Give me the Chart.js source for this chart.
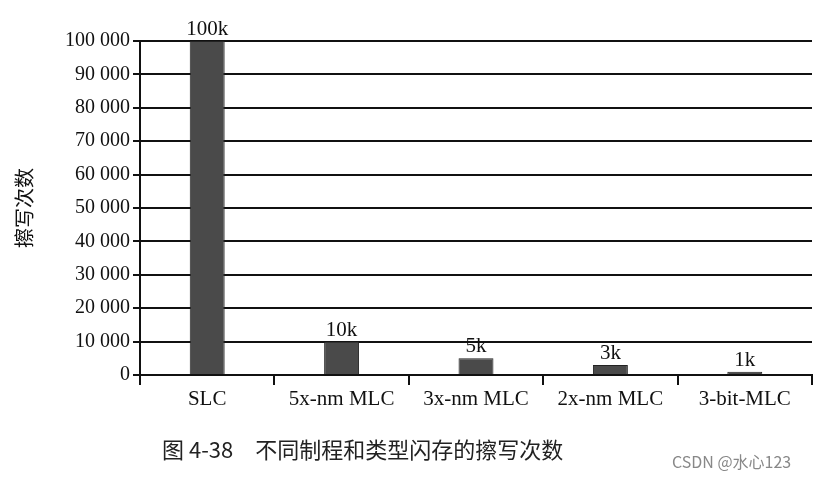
<!DOCTYPE html>
<html><head><meta charset="utf-8">
<script src="https://cdn.jsdelivr.net/npm/chart.js@4/dist/chart.umd.min.js"></script>
<style>html,body{margin:0;padding:0;background:#fff}#w{width:833px;height:479px}</style>
</head><body><div id="w"><canvas id="c"></canvas></div>
<script>
const categories = ["SLC","5x-nm MLC","3x-nm MLC","2x-nm MLC","3-bit-MLC"];
const cycles = [100000,10000,5000,3000,1000];
const valueLabels = ["100k","10k","5k","3k","1k"];
const yTicks = [0,10000,20000,30000,40000,50000,60000,70000,80000,90000,100000];
const yTitle = "擦写次数";
const caption = "图 4-38　不同制程和类型闪存的擦写次数";
const watermark = "CSDN @水心123";
const serif = "'Liberation Serif','DejaVu Serif',serif";
const cjk = "'Noto Sans CJK SC',sans-serif";
const extras = {
  id:'extras',
  afterDatasetsDraw(ch){
    const ctx=ch.ctx, m=ch.getDatasetMeta(0);
    ctx.save();
    ctx.fillStyle='#111';ctx.font="21px "+serif;ctx.textAlign='center';ctx.textBaseline='bottom';
    m.data.forEach((b,i)=>ctx.fillText(valueLabels[i],b.x,b.y-1));
    ctx.font="20px "+cjk;ctx.textBaseline='middle';
    ctx.translate(24,(ch.chartArea.top+ch.chartArea.bottom)/2);ctx.rotate(-Math.PI/2);
    ctx.fillText(yTitle,0,0);
    ctx.restore();ctx.save();
    ctx.fillStyle='#222';ctx.font="22px "+cjk;ctx.textAlign='left';ctx.textBaseline='middle';
    ctx.fillText(caption,162,450);
    ctx.fillStyle='#888';ctx.font="16px "+cjk;ctx.fillText(watermark,672,462);
    ctx.restore();
  }
};
new Chart(document.getElementById('c'),{
  type:'bar',
  data:{labels:categories,datasets:[{data:cycles,backgroundColor:'#4a4a4a',borderColor:'#222',borderWidth:1,categoryPercentage:1,barPercentage:0.26}]},
  options:{responsive:true,maintainAspectRatio:false,animation:false,
    layout:{padding:{top:41,right:21,left:0,bottom:0}},
    plugins:{legend:{display:false},tooltip:{enabled:false}},
    scales:{
      x:{offset:true,afterFit(s){s.height=104;},
        grid:{offset:true,drawOnChartArea:false,color:'#111',lineWidth:2,tickLength:10},
        border:{color:'#111',width:2},
        ticks:{color:'#111',font:{family:serif,size:21},padding:2}},
      y:{min:0,max:100000,afterFit(s){s.width=140;},
        afterBuildTicks(s){s.ticks=yTicks.map(v=>({value:v}));},
        grid:{color:'#111',lineWidth:2,tickLength:7},
        border:{color:'#111',width:2},
        ticks:{color:'#111',font:{family:serif,size:20},padding:3,
          callback:v=>v.toString().replace(/\B(?=(\d{3})+(?!\d))/g,' ')}}
    }},
  plugins:[extras]
});
</script></body></html>
